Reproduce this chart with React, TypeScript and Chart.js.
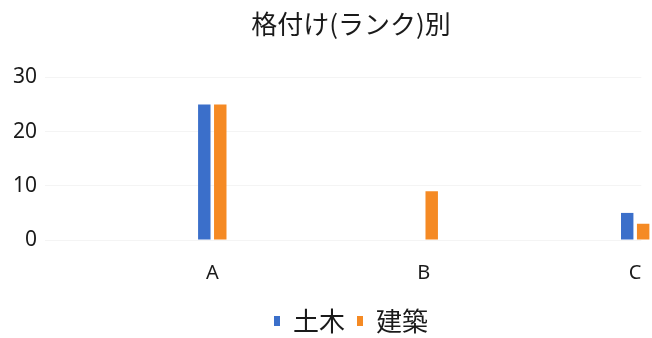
import React, { useEffect, useRef } from "react";
import { Chart, registerables } from "chart.js";

Chart.register(...registerables);

const title = "格付け(ランク)別";
const categories = ["A", "B", "C"];
const seriesNames = ["土木", "建築"];
const doboku = [25, 0, 5];
const kenchiku = [25, 9, 3];
const yTicks = [0, 10, 20, 30];

const BLUE = "#3B6FCA";
const ORANGE = "#F58A24";
const TEXT = "#1a1a1a";
const CJK = '"Noto Sans CJK JP", "Noto Sans", sans-serif';
const LATIN = '"Noto Sans", "Noto Sans CJK JP", sans-serif';

export default function App() {
  const ref = useRef<HTMLCanvasElement | null>(null);

  useEffect(() => {
    if (!ref.current) return;
    const toPoints = (vals: number[]) => vals.map((v, i) => ({ x: i, y: v }));
    const chart = new Chart(ref.current, {
      type: "bar",
      data: {
        datasets: [
          { label: seriesNames[0], data: toPoints(doboku), backgroundColor: BLUE, borderWidth: 0, clip: false },
          { label: seriesNames[1], data: toPoints(kenchiku), backgroundColor: ORANGE, borderWidth: 0, clip: false },
        ],
      },
      options: {
        responsive: false,
        animation: false,
        devicePixelRatio: 1,
        layout: { padding: { left: 5, right: -45, top: 0, bottom: -6 } },
        datasets: { bar: { categoryPercentage: 0.151, barPercentage: 0.78 } },
        scales: {
          x: {
            type: "linear",
            offset: false,
            min: -0.791,
            max: 2.029,
            grid: { display: false, drawTicks: true, tickLength: 11, offset: false },
            border: { display: false },
            ticks: {
              stepSize: 1,
              includeBounds: false,
              autoSkip: false,
              maxRotation: 0,
              padding: 10.5,
              color: TEXT,
              font: { family: LATIN, size: 20, lineHeight: 1.2 },
              callback: (v: any) => categories[Number(v)] ?? "",
            },
          },
          y: {
            min: yTicks[0],
            max: yTicks[yTicks.length - 1],
            grid: { color: "#f4f4f4", drawTicks: false },
            border: { display: false },
            afterBuildTicks: (scale: any) => {
              scale.ticks = yTicks.map((v) => ({ value: v }));
            },
            ticks: {
              padding: 8,
              color: TEXT,
              font: { family: LATIN, size: 21 },
            },
          },
        },
        plugins: {
          title: {
            display: true,
            text: title,
            color: TEXT,
            font: { family: CJK, size: 26, weight: "normal" },
            padding: { top: 9, bottom: 37.3 },
          },
          legend: {
            display: true,
            position: "bottom",
            labels: {
              boxWidth: 6,
              boxHeight: 10,
              padding: 12,
              color: TEXT,
              font: { family: CJK, size: 26 },
            },
          },
          tooltip: { enabled: false },
        },
      },
    });
    return () => chart.destroy();
  }, []);

  return (
    <div
      style={{
        position: "absolute",
        left: 0,
        top: 0,
        width: 652,
        height: 338,
        overflow: "hidden",
        background: "#fff",
      }}
    >
      <canvas ref={ref} width={652} height={338} style={{ display: "block", width: 652, height: 338 }} />
    </div>
  );
}
